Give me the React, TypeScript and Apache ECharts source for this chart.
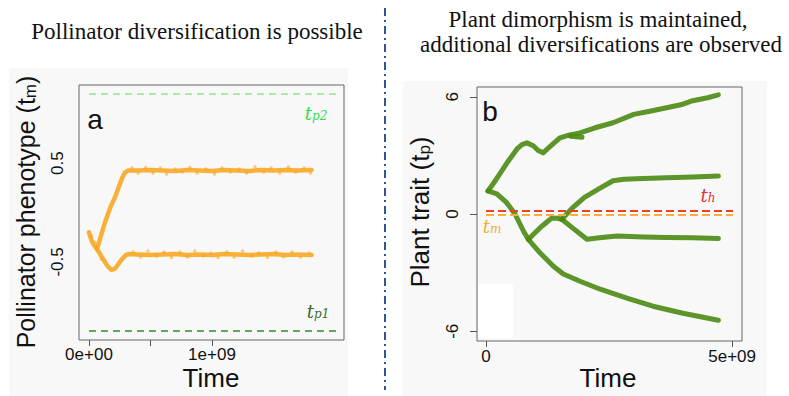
import React, { useEffect, useRef } from 'react';
import * as echarts from 'echarts';

// ---- Panel a: pollinator phenotype (time in units of 1e9) ----
const pollLowTime = [0, 0.02, 0.04, 0.065, 0.09, 0.12, 0.15, 0.18, 0.21, 0.24, 0.27, 0.3, 0.33, 0.4, 0.5, 0.6, 0.7, 0.8, 0.9, 1.0, 1.1, 1.2, 1.3, 1.4, 1.5, 1.6, 1.7, 1.81];
const pollLowValue = [-0.2, -0.28, -0.33, -0.37, -0.42, -0.48, -0.54, -0.58, -0.57, -0.52, -0.47, -0.43, -0.42, -0.425, -0.43, -0.425, -0.42, -0.43, -0.425, -0.43, -0.42, -0.425, -0.43, -0.425, -0.42, -0.43, -0.425, -0.43];
const pollHighTime = [0.065, 0.09, 0.12, 0.15, 0.18, 0.21, 0.24, 0.27, 0.29, 0.32, 0.4, 0.5, 0.6, 0.7, 0.8, 0.9, 1.0, 1.1, 1.2, 1.3, 1.4, 1.5, 1.6, 1.7, 1.81];
const pollHighValue = [-0.37, -0.27, -0.14, -0.03, 0.07, 0.15, 0.25, 0.35, 0.4, 0.425, 0.425, 0.43, 0.425, 0.42, 0.43, 0.425, 0.42, 0.43, 0.425, 0.42, 0.43, 0.425, 0.43, 0.425, 0.43];
const pollHighDots = [[0.35, 0.45], [0.4, 0.4], [0.46, 0.455], [0.52, 0.4], [0.58, 0.45], [0.63, 0.39], [0.7, 0.44], [0.76, 0.41], [0.82, 0.455], [0.88, 0.4], [0.95, 0.44], [1.02, 0.39], [1.08, 0.45], [1.15, 0.41], [1.22, 0.44], [1.28, 0.4], [1.35, 0.46], [1.42, 0.41], [1.48, 0.45], [1.55, 0.4], [1.62, 0.46], [1.68, 0.41], [1.75, 0.45], [1.8, 0.4]];
const pollLowDots = [[0.02, -0.24], [0.05, -0.3], [0.1, -0.47], [0.36, -0.4], [0.42, -0.45], [0.48, -0.39], [0.55, -0.44], [0.61, -0.4], [0.67, -0.455], [0.74, -0.4], [0.8, -0.45], [0.86, -0.39], [0.93, -0.44], [0.99, -0.41], [1.05, -0.455], [1.12, -0.4], [1.18, -0.45], [1.25, -0.39], [1.32, -0.44], [1.38, -0.41], [1.45, -0.455], [1.52, -0.4], [1.58, -0.45], [1.65, -0.4], [1.72, -0.45], [1.79, -0.41]];
const tp2 = 1.2;
const tp1 = -1.2;
const pollThresholdEnd = 2.02;

// ---- Panel b: plant trait (time in units of 1e9) ----
const plantTopTime = [0.04, 0.16, 0.28, 0.45, 0.63, 0.73, 0.83, 0.96, 1.06, 1.16, 1.27, 1.5, 1.7, 1.91, 2.2, 2.58, 3.0, 3.3, 3.67, 4.0, 4.2, 4.5, 4.72];
const plantTopValue = [1.18, 1.6, 2.05, 2.7, 3.33, 3.55, 3.64, 3.49, 3.25, 3.13, 3.38, 3.9, 4.05, 4.15, 4.4, 4.67, 5.1, 5.25, 5.44, 5.62, 5.8, 5.95, 6.1];
const plantTailTime = [1.72, 1.95];
const plantTailValue = [3.98, 3.93];
const plantLowTime = [0.04, 0.22, 0.42, 0.59, 0.76, 0.86, 1.1, 1.37, 1.57, 1.91, 2.32, 2.86, 3.39, 4.0, 4.72];
const plantLowValue = [1.18, 1.03, 0.58, 0, -0.87, -1.3, -2.0, -2.67, -3.07, -3.44, -3.85, -4.3, -4.72, -5.08, -5.44];
const plantMidTime = [0.86, 0.98, 1.1, 1.22, 1.34, 1.44, 1.54];
const plantMidValue = [-1.3, -1.0, -0.7, -0.45, -0.2, -0.22, -0.27];
const plantMidUpTime = [1.54, 1.75, 2.0, 2.3, 2.58, 2.8, 3.2, 3.67, 4.2, 4.72];
const plantMidUpValue = [-0.27, 0.3, 0.85, 1.3, 1.7, 1.78, 1.82, 1.86, 1.9, 1.95];
const plantMidDownTime = [1.54, 1.75, 2.05, 2.3, 2.66, 3.2, 3.67, 4.2, 4.72];
const plantMidDownValue = [-0.27, -0.7, -1.29, -1.22, -1.13, -1.18, -1.2, -1.22, -1.26];
const th = 0.15;
const tm = -0.05;
const plantThresholdEnd = 5.02;

const xTicksA = [0, 0.5, 1];
const xLabelsA = [0, 1];
const yLabelsA = [-0.5, 0.5];
const xTicksB = [0, 5];
const yTicksB = [-6, 0, 6];

const zip = (a: number[], b: number[]) => a.map((v, i) => [v, b[i]]);

const SANS = '"Liberation Sans", Arial, sans-serif';
const SERIF = '"Liberation Serif", "Times New Roman", serif';
const MATH = '"DejaVu Serif", "Liberation Serif", serif';
const ORANGE = '#F9A316';
const GREEN = '#4a8a12';

function trajectory(name: string, data: number[][], color: string, idx: number, width = 5, opacity = 0.9) {
  return {
    name, type: 'line', xAxisIndex: idx, yAxisIndex: idx, data, showSymbol: false, symbol: 'none',
    silent: true, lineStyle: { color, width, opacity, cap: 'round', join: 'round' }, z: 3,
  };
}
function threshold(name: string, value: number, end: number, color: string, idx: number, width: number, dash: number[]) {
  return {
    name, type: 'line', xAxisIndex: idx, yAxisIndex: idx, data: [[0, value], [end, value]], showSymbol: false,
    symbol: 'none', silent: true, lineStyle: { color, width, type: dash }, z: 4,
  };
}
function mathLabel(x: number, y: number, main: string, sub: string, color: string) {
  return {
    type: 'text', z: 10, x, y,
    style: {
      text: `{t|${main}}{s|${sub}}`, fill: color, align: 'center', verticalAlign: 'middle', textAlign: 'center', textVerticalAlign: 'middle',
      rich: {
        t: { fontSize: 18, fontStyle: 'italic', fontFamily: MATH, fill: color },
        s: { fontSize: 12, fontStyle: 'italic', fontFamily: MATH, fill: color, verticalAlign: 'bottom' },
      },
    },
  };
}

export default function App() {
  const ref = useRef<HTMLDivElement>(null);
  useEffect(() => {
    const chart = echarts.init(ref.current!, null, { renderer: 'svg' });
    const axisLabelBase = { color: '#111', fontSize: 17, fontFamily: SANS };
    const center = { align: 'center', verticalAlign: 'middle', textAlign: 'center', textVerticalAlign: 'middle' };
    const option: any = {
      animation: false,
      backgroundColor: '#ffffff',
      grid: [
        { left: 79, top: 85, width: 265, height: 255, show: true, borderColor: '#666', borderWidth: 1, backgroundColor: 'transparent', z: 1 },
        { left: 477, top: 87, width: 265, height: 254, show: true, borderColor: '#666', borderWidth: 1, backgroundColor: 'transparent', z: 1 },
      ],
      xAxis: [
        {
          type: 'value', gridIndex: 0, min: -0.081, max: 2.073, splitLine: { show: false },
          axisLine: { show: false, onZero: false },
          axisTick: { show: true, length: 6, customValues: xTicksA, lineStyle: { color: '#555' } },
          axisLabel: { ...axisLabelBase, margin: 6, customValues: xLabelsA, formatter: (v: number) => (v === 0 ? '0e+00' : `${v}e+09`) },
        },
        {
          type: 'value', gridIndex: 1, min: -0.183, max: 5.2, splitLine: { show: false },
          axisLine: { show: false, onZero: false },
          axisTick: { show: true, length: 6, customValues: xTicksB, lineStyle: { color: '#555' } },
          axisLabel: { ...axisLabelBase, margin: 7, customValues: xTicksB, formatter: (v: number) => (v === 0 ? '0' : `${v}e+09`) },
        },
      ],
      yAxis: [
        {
          type: 'value', gridIndex: 0, min: -1.29, max: 1.29, splitLine: { show: false },
          axisLine: { show: false, onZero: false },
          axisTick: { show: false },
          axisLabel: { ...axisLabelBase, margin: 13, rotate: 90, customValues: yLabelsA, formatter: (v: number) => String(v) },
        },
        {
          type: 'value', gridIndex: 1, min: -6.5, max: 6.5, splitLine: { show: false },
          axisLine: { show: false, onZero: false },
          axisTick: { show: true, length: 7, customValues: yTicksB, lineStyle: { color: '#555' } },
          axisLabel: { ...axisLabelBase, margin: 16, rotate: 90, customValues: yTicksB, formatter: (v: number) => String(v) },
        },
      ],
      series: [
        threshold('tp2', tp2, pollThresholdEnd, '#8fe88f', 0, 1.5, [7, 5]),
        threshold('tp1', tp1, pollThresholdEnd, '#2e8b2e', 0, 1.5, [7, 5]),
        trajectory('pollinator low', zip(pollLowTime, pollLowValue), ORANGE, 0, 4.5, 0.85),
        trajectory('pollinator high', zip(pollHighTime, pollHighValue), ORANGE, 0, 4.5, 0.85),
        {
          type: 'scatter', xAxisIndex: 0, yAxisIndex: 0, data: [...pollHighDots, ...pollLowDots], symbolSize: 3.5,
          silent: true, itemStyle: { color: ORANGE, opacity: 0.55 }, z: 3,
        },
        trajectory('plant top', zip(plantTopTime, plantTopValue), GREEN, 1),
        trajectory('plant tail', zip(plantTailTime, plantTailValue), GREEN, 1),
        trajectory('plant low', zip(plantLowTime, plantLowValue), GREEN, 1),
        trajectory('plant mid', zip(plantMidTime, plantMidValue), GREEN, 1),
        trajectory('plant mid up', zip(plantMidUpTime, plantMidUpValue), GREEN, 1),
        trajectory('plant mid down', zip(plantMidDownTime, plantMidDownValue), GREEN, 1),
        threshold('th', th, plantThresholdEnd, '#e8402a', 1, 2, [8, 4]),
        threshold('tm', tm, plantThresholdEnd, '#f5b335', 1, 2, [8, 4]),
      ],
      graphic: [
        { type: 'rect', z: -10, shape: { x: 9, y: 68, width: 339, height: 328 }, style: { fill: '#f8f8f8' } },
        { type: 'rect', z: -10, shape: { x: 403, y: 81, width: 364, height: 315 }, style: { fill: '#f8f8f8' } },
        { type: 'rect', z: -5, shape: { x: 478, y: 284, width: 35, height: 54 }, style: { fill: '#ffffff' } },
        { type: 'line', z: 10, shape: { x1: 385, y1: 8, x2: 385, y2: 390 }, style: { stroke: '#2f5597', lineWidth: 2, lineDash: [8, 4, 2, 4] } },
        { type: 'text', z: 10, x: 197, y: 31, style: { text: 'Pollinator diversification is possible', font: `23px ${SERIF}`, fill: '#111', ...center } },
        { type: 'text', z: 10, x: 598, y: 19, style: { text: 'Plant dimorphism is maintained,', font: `23px ${SERIF}`, fill: '#111', ...center } },
        { type: 'text', z: 10, x: 601, y: 44, style: { text: 'additional diversifications are observed', font: `23px ${SERIF}`, fill: '#111', ...center } },
        { type: 'text', z: 10, x: 211, y: 378, style: { text: 'Time', font: `26px ${SANS}`, fill: '#111', ...center } },
        { type: 'text', z: 10, x: 608, y: 378, style: { text: 'Time', font: `26px ${SANS}`, fill: '#111', ...center } },
        {
          type: 'text', z: 10, x: 26, y: 212, rotation: Math.PI / 2,
          style: { text: 'Pollinator phenotype (t{s|m})', font: `25px ${SANS}`, fill: '#111', ...center, rich: { s: { fontSize: 17, fontFamily: SANS, fill: '#111', verticalAlign: 'bottom' } } },
        },
        {
          type: 'text', z: 10, x: 420, y: 212, rotation: Math.PI / 2,
          style: { text: 'Plant trait (t{s|p})', font: `26px ${SANS}`, fill: '#111', ...center, rich: { s: { fontSize: 17, fontFamily: SANS, fill: '#111', verticalAlign: 'bottom' } } },
        },
        { type: 'text', z: 10, x: 95, y: 119, style: { text: 'a', font: `500 28px ${SANS}`, fill: '#111', ...center } },
        { type: 'text', z: 10, x: 490, y: 111, style: { text: 'b', font: `500 28px ${SANS}`, fill: '#111', ...center } },
        mathLabel(316, 113, 't', 'p2', '#33dd44'),
        mathLabel(318, 311, 't', 'p1', '#3d6b2a'),
        mathLabel(708, 195, 't', 'h', '#e53030'),
        mathLabel(492, 226, 't', 'm', '#f0b030'),
      ],
    };
    chart.setOption(option);
    return () => chart.dispose();
  }, []);
  return <div ref={ref} style={{ position: 'fixed', left: 0, top: 0, width: 789, height: 396 }} />;
}
